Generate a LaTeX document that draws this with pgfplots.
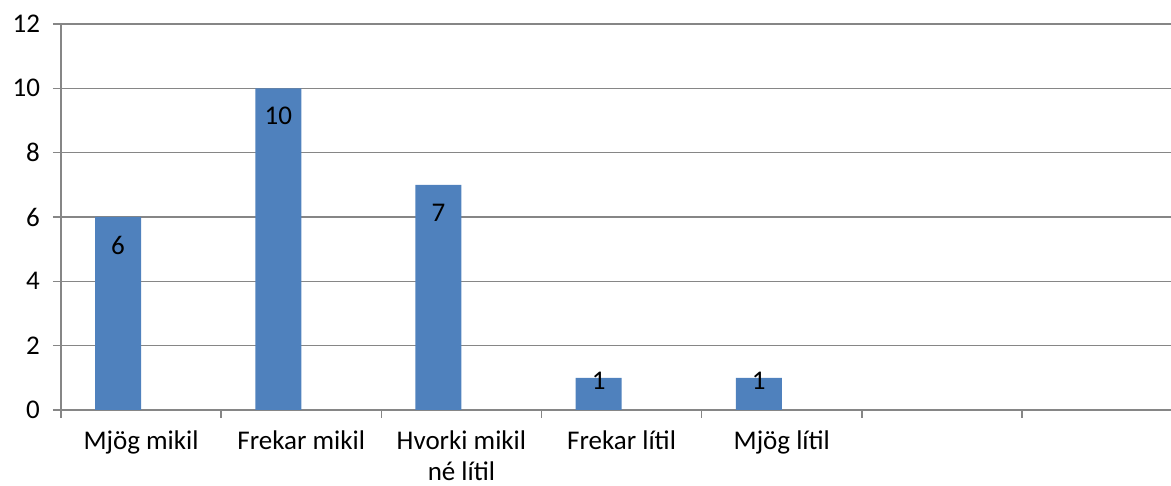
\documentclass[border=0pt]{standalone}
\usepackage{fontspec}
\setmainfont{Carlito}
\usepackage{pgfplots}
\pgfplotsset{compat=1.18}
\definecolor{barblue}{HTML}{4F81BD}
\definecolor{gridgray}{HTML}{868686}
\begin{document}
\begin{tikzpicture}
\begin{axis}[
    scale only axis,
    width=555pt, height=193pt,
    xmin=-0.5, xmax=6.43,
    ymin=0, ymax=12,
    axis x line=bottom, axis y line=left,
    axis line style={gridgray, line width=0.75pt, -},
    ytick={0,2,...,12},
    ymajorgrids=true,
    grid style={gridgray, line width=0.75pt},
    y tick style={gridgray, line width=0.75pt},
    major tick length=4pt,
    tick align=outside,
    xtick={0,1,2,3,4},
    xticklabels={Mjög mikil, Frekar mikil, {Hvorki mikil\\né lítil}, Frekar lítil, Mjög lítil},
    x tick style={draw=none},
    minor xtick={-0.5,0.5,1.5,2.5,3.5,4.5,5.5},
    minor tick length=4pt,
    minor x tick style={gridgray, line width=0.75pt, draw=gridgray},
    x tick label style={align=center, yshift=-3pt},
    y tick label style={xshift=-3pt},
    tick label style={font=\fontsize{13.5}{15.5}\selectfont, black},
    /pgf/number format/assume math mode=true,
    clip=false,
]
% tall bars: label inside near the top
\addplot[ybar, bar width=23pt, bar shift=-11.5pt, fill=barblue, draw=none,
    nodes near coords,
    every node near coord/.append style={anchor=north, xshift=-11.5pt, yshift=-6pt, font=\fontsize{13.5}{16}\selectfont, black}]
    coordinates {(0,6) (1,10) (2,7)};
% short bars: label sits at the top edge
\addplot[ybar, bar width=23pt, bar shift=-11.5pt, fill=barblue, draw=none,
    nodes near coords,
    every node near coord/.append style={anchor=north, xshift=-11.5pt, yshift=6.5pt, font=\fontsize{13.5}{16}\selectfont, black}]
    coordinates {(3,1) (4,1)};
\coordinate (bl) at (rel axis cs:0,0);
\coordinate (tr) at (rel axis cs:1,1);
\end{axis}
\pgfresetboundingbox
\path ([shift={(-30.5pt,-38pt)}]bl) rectangle ([shift={(0pt,12pt)}]tr);
\end{tikzpicture}
\end{document}
